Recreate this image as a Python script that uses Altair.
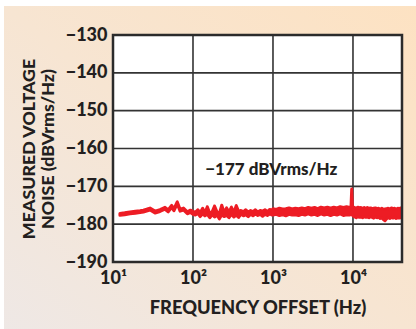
import altair as alt
import pandas as pd

# ---- data ----
freq_hz = [12.2, 14, 16.3, 19, 21.8, 24, 26.3, 29, 33.5, 38.7, 44.7, 49, 54, 57.7, 63.5, 69, 76, 85, 93,
           100, 107, 115, 123, 132, 141, 151, 162, 174, 186, 200, 214, 229, 245, 263, 282, 302, 324, 347,
           372, 398, 427, 457, 490, 525, 562, 603, 646, 692, 741, 794, 851, 912, 977,
           1000, 1096, 1202, 1318, 1445, 1585, 1738, 1905, 2089, 2291, 2512, 2754, 3020, 3311, 3631, 3981,
           4365, 4786, 5248, 5754, 6310, 6918, 7586, 8318, 9120, 9450, 9640, 9850, 10000,
           10470, 10965, 11480, 12023, 12590, 13183, 13800, 14454, 15136, 15849, 16600, 17378, 18200,
           19055, 19950, 20893, 21880, 22909, 24000, 25119, 26300, 27542, 28840, 30200, 31620, 33113,
           34670, 36308, 38020, 39811, 41000]
noise_lo = [-177.65, -177.5, -177.25, -177.1, -176.95, -176.8, -176.55, -176.25, -177.05, -176.65, -176.05,
            -176.75, -175.55, -176.45, -174.6, -176.55, -176.25, -177.25, -176.9,
            -177.4, -177.6, -177.2, -178.0, -177.3, -177.8, -177.4, -178.3, -177.5, -178.1, -177.6, -178.6,
            -177.5, -178.0, -177.7, -178.3, -177.4, -178.1, -177.6, -178.2, -177.4, -177.8, -177.5, -178.0,
            -177.4, -177.8, -177.3, -177.7, -177.4, -177.9, -177.4, -177.7, -177.3, -177.6,
            -177.6, -177.4, -177.7, -177.5, -177.8, -177.4, -177.6, -177.5, -177.7, -177.4, -177.6, -177.3,
            -177.6, -177.4, -177.7, -177.3, -177.6, -177.4, -177.7, -177.4, -177.6, -177.3, -177.7, -177.5,
            -177.6, -177.4, -176.8, -177.6, -177.8,
            -178.1, -178.3, -178.0, -178.2, -178.1, -178.3, -178.0, -178.2, -178.1, -178.3, -178.0, -178.2,
            -178.4, -178.1, -178.3, -178.2, -178.5, -178.3, -178.8, -179.1, -178.6, -178.3, -178.5, -178.2,
            -178.4, -178.2, -178.5, -178.3, -178.4, -178.2, -178.3]
noise_hi = [-177.15, -177.0, -176.75, -176.6, -176.45, -176.3, -176.05, -175.75, -176.55, -176.15, -175.55,
            -176.25, -175.05, -175.95, -174.1, -176.05, -175.75, -176.75, -176.3,
            -176.6, -176.8, -176.2, -177.0, -175.8, -177.0, -175.4, -177.1, -176.7, -175.2, -176.8, -177.1,
            -175.0, -176.9, -175.7, -176.8, -175.5, -176.9, -175.1, -176.6, -176.4, -176.7, -176.2, -176.8,
            -176.4, -176.7, -176.2, -176.8, -176.4, -176.6, -176.2, -176.7, -176.1, -176.4,
            -175.9, -176.1, -175.8, -176.0, -175.9, -175.7, -176.0, -175.8, -175.9, -175.7, -175.9, -175.6,
            -175.8, -175.6, -175.9, -175.5, -175.7, -175.5, -175.8, -175.5, -175.7, -175.4, -175.6, -175.4,
            -175.6, -175.5, -170.7, -175.5, -175.4,
            -175.6, -175.8, -175.5, -175.7, -175.6, -175.8, -175.6, -175.9, -175.6, -175.8, -175.7, -175.9,
            -175.8, -175.7, -175.9, -175.8, -176.0, -175.8, -176.1, -176.0, -175.9, -175.8, -176.0, -175.7,
            -175.9, -175.8, -176.0, -175.8, -175.9, -175.7, -175.9]

x_ticks = [10, 100, 1000, 10000]
x_tick_labels = ["10\u00b9", "10\u00b2", "10\u00b3", "10\u2074"]
y_ticks = [-190, -180, -170, -160, -150, -140, -130]
x_grid = [100, 1000, 10000]
y_grid = [-180, -170, -160, -150, -140]
note_text = ["\u2212177 dBVrms/Hz"]
note_x = [953]
note_y = [-167.1]

# ---- styling ----
W, H = 289, 227
FONT = "Lato"
WEIGHT = 900
INK = "#231f20"
GRID = "#333333"
RED = "#ed1c24"

xscale = alt.Scale(type="log", domain=[10, 41000])
yscale = alt.Scale(domain=[-190, -130])

label_expr = " : ".join(
    f"datum.value == {v} ? '{t}'" for v, t in zip(x_ticks, x_tick_labels)
) + " : ''"

XAXIS = alt.Axis(
    values=x_ticks, labelExpr=label_expr, grid=False, domain=False, ticks=False, tickSize=0, zindex=2,
    labelFont=FONT, labelFontSize=18, labelFontWeight=WEIGHT, labelColor=INK,
    labelPadding=21, labelBaseline="alphabetic", labelFlush=False, labelOverlap=False,
    title="FREQUENCY OFFSET (Hz)", titleFont=FONT, titleFontSize=18.3, titleFontWeight=WEIGHT,
    titleColor=INK, titleX=W / 2, titleY=51, titleBaseline="alphabetic", titleAlign="center")
YAXIS = alt.Axis(
    values=y_ticks, grid=False, domain=False, ticks=False, tickSize=0, zindex=2,
    labelFont=FONT, labelFontSize=18, labelFontWeight=WEIGHT, labelColor=INK,
    labelPadding=6, labelBaseline="middle", labelAlign="right", labelFlush=False, labelOverlap=False,
    title=["MEASURED VOLTAGE", "NOISE (dBVrms/Hz)"], titleFont=FONT, titleFontSize=17.8,
    titleFontWeight=WEIGHT, titleColor=INK, titleAngle=270, titleX=-79, titleY=H / 2,
    titleBaseline="alphabetic", titleAlign="center", titleLineHeight=19.8)

one = pd.DataFrame({"k": [0]})

bg = alt.Chart(one).mark_rect(
    fill={"gradient": "linear", "x1": 0, "y1": 1, "x2": 1, "y2": 0,
          "stops": [{"offset": 0, "color": "#eee8e6"},
                    {"offset": 0.5, "color": "#f7e5d2"},
                    {"offset": 1, "color": "#fde2c2"}]}
).encode(x=alt.value(-109), x2=alt.value(W + 20), y=alt.value(-29), y2=alt.value(H + 80))

plot_bg = alt.Chart(one).mark_rect(fill="white").encode(
    x=alt.value(0), x2=alt.value(W), y=alt.value(0), y2=alt.value(H))

vgrid = alt.Chart(pd.DataFrame({"f": x_grid})).mark_rule(color=GRID, strokeWidth=1.6).encode(
    x=alt.X("f:Q", scale=xscale, axis=XAXIS))
hgrid = alt.Chart(pd.DataFrame({"v": y_grid})).mark_rule(color=GRID, strokeWidth=1.6).encode(
    y=alt.Y("v:Q", scale=yscale, axis=YAXIS))

df = pd.DataFrame({"f": freq_hz, "lo": noise_lo, "hi": noise_hi})
band = alt.Chart(df).mark_area(
    color=RED, stroke=RED, strokeWidth=3, strokeJoin="round", clip=True, opacity=1
).encode(
    x=alt.X("f:Q", scale=xscale, axis=XAXIS),
    y=alt.Y("lo:Q", scale=yscale, axis=YAXIS),
    y2="hi:Q",
)

note = alt.Chart(pd.DataFrame({"t": note_text, "f": note_x, "v": note_y})).mark_text(
    font=FONT, fontSize=17, fontWeight=WEIGHT, color=INK, align="center", baseline="alphabetic"
).encode(x=alt.X("f:Q", scale=xscale, axis=XAXIS), y=alt.Y("v:Q", scale=yscale, axis=YAXIS), text="t:N")

border = alt.Chart(one).mark_rect(filled=False, stroke="#2b2b2b", strokeWidth=2.5).encode(
    x=alt.value(0), x2=alt.value(W), y=alt.value(0), y2=alt.value(H))

chart = alt.layer(bg, plot_bg, vgrid, hgrid, band, note, border).properties(
    width=W, height=H,
    padding={"left": 113, "top": 35, "right": 14, "bottom": 67},
    autosize=alt.AutoSizeParams(type="none"),
    background="white",
).configure_view(strokeWidth=0)

chart.save("out.html", embed_options={"renderer": "svg", "actions": False})
